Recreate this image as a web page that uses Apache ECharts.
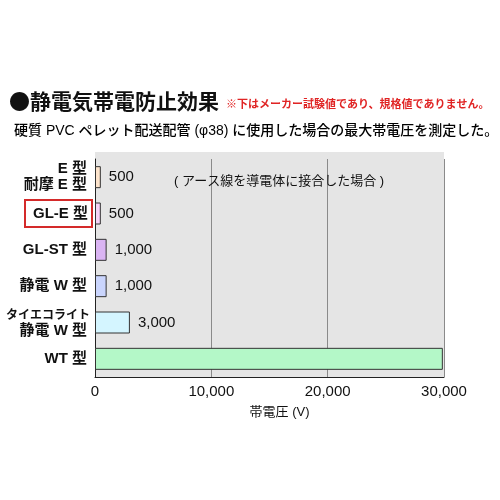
<!DOCTYPE html>
<html lang="ja">
<head>
<meta charset="utf-8">
<title>静電気帯電防止効果</title>
<script src="https://cdn.jsdelivr.net/npm/echarts@6/dist/echarts.min.js"></script>
<style>
  html, body { margin: 0; padding: 0; background: #fff; }
  #main { width: 500px; height: 500px; }
</style>
</head>
<body>
<div id="main"></div>
<script type="text/javascript">
// data
var categories = ['E 型\n耐摩 E 型', 'GL-E 型', 'GL-ST 型', '静電 W 型', 'タイエコライト\n静電 W 型', 'WT 型'];
var voltages = [500, 500, 1000, 1000, 3000, 29900];
var showValue = [true, true, true, true, true, false];
var barColors = ['#fde4cc', '#f7d2f7', '#dab4f3', '#cad5fd', '#d4f5ff', '#b4f8c8'];
var xTicks = [0, 10000, 20000, 30000];

var FONT = "'Liberation Sans', 'Noto Sans CJK JP', sans-serif";
var CJK = "'Noto Sans CJK JP', sans-serif";

var myChart = echarts.init(document.getElementById('main'));

var barData = [];
for (var i = 0; i < voltages.length; i++) {
	barData.push({
		value: voltages[i],
		itemStyle: { color: barColors[i] },
		label: { show: showValue[i] }
	});
}

option = {
	backgroundColor: '#ffffff',
	animation: false,
	title: [{
		text: '●静電気帯電防止効果',
		left: 4, top: 86,
		textStyle: { fontFamily: CJK, fontSize: 21, fontWeight: 'bold', color: '#111' }
	}, {
		text: '※下はメーカー試験値であり、規格値でありません。',
		left: 221, top: 94,
		textStyle: { fontFamily: FONT, fontSize: 11, fontWeight: 'bold', color: '#e02424' }
	}, {
		text: '硬質 PVC ペレット配送配管 (φ38) に使用した場合の最大帯電圧を測定した。',
		left: 9, top: 119,
		textStyle: { fontFamily: FONT, fontSize: 14, fontWeight: 500, color: '#000' }
	}, {
		text: '( アース線を導電体に接合した場合 )',
		left: 169, top: 170,
		textStyle: { fontFamily: FONT, fontSize: 13, fontWeight: 'normal', color: '#111' }
	}],
	// grey strip above the first band so the plot background starts at the same height
	graphic: [{
		type: 'rect', z: -1,
		shape: { x: 95, y: 152, width: 349, height: 8 },
		style: { fill: '#e5e5e5' }
	}],
	grid: {
		left: 95, right: 56, top: 159, bottom: 123,
		containLabel: false,
		outerBoundsMode: 'none',
		show: true, backgroundColor: '#e5e5e5', borderWidth: 0
	},
	xAxis: {
		type: 'value',
		min: 0, max: 30000, interval: 10000,
		name: '帯電圧 (V)',
		nameLocation: 'middle',
		nameGap: 29,
		nameTextStyle: { fontFamily: FONT, fontSize: 13, color: '#111', padding: [0, 0, 0, 20] },
		axisLine: { show: true, lineStyle: { color: '#222', width: 1 } },
		axisTick: { show: false },
		splitLine: { show: true, lineStyle: { color: '#8a8a8a', width: 1 } },
		axisLabel: {
			fontFamily: FONT, fontSize: 15, color: '#111', margin: 7,
			formatter: function (v) { return xTicks.indexOf(v) >= 0 ? v.toLocaleString('en-US') : ''; }
		}
	},
	yAxis: {
		type: 'category',
		inverse: true,
		data: categories,
		axisLine: { show: true, lineStyle: { color: '#222', width: 1 } },
		axisTick: { show: false },
		axisLabel: {
			margin: 3,
			formatter: function (v) {
				if (v === 'GL-E 型') return '{hl|' + v + '}';
				return v.split('\n').map(function (s) {
					return (s === 'タイエコライト' ? '{k|' : '{n|') + s + '}';
				}).join('\n');
			},
			rich: {
				n: { fontFamily: FONT, fontSize: 15, fontWeight: 'bold', color: '#111', lineHeight: 16, padding: [0, 5, 0, 0], align: 'right' },
				k: { fontFamily: CJK, fontSize: 12, fontWeight: 'bold', color: '#111', lineHeight: 16, padding: [0, 2, 0, 0], align: 'right' },
				hl: { fontFamily: FONT, fontSize: 15, fontWeight: 'bold', color: '#111', lineHeight: 17,
					borderColor: '#d42a2a', borderWidth: 2, padding: [6, 4, 6, 8] }
			}
		}
	},
	series: [{
		type: 'bar',
		data: barData,
		barWidth: 22,
		itemStyle: { borderColor: '#333', borderWidth: 1 },
		label: {
			position: 'right',
			distance: 8,
			fontFamily: FONT, fontSize: 15, color: '#111',
			formatter: function (p) { return p.value.toLocaleString('en-US'); }
		}
	}]
};

if (option && typeof option === 'object') {
	myChart.setOption(option);
}
</script>
</body>
</html>
